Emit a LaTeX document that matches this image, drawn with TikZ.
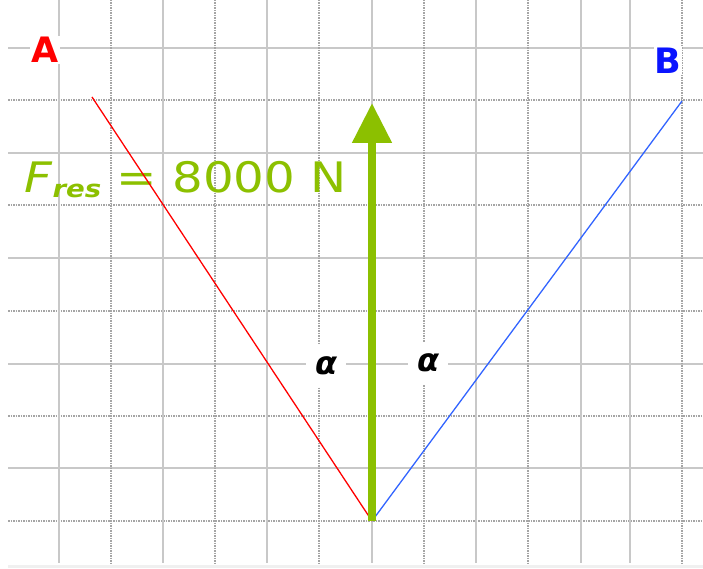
\documentclass[tikz,border=0pt]{standalone}
\usepackage{fontspec}
\setmainfont{DejaVu Sans}
\usetikzlibrary{arrows.meta}
\usepackage{xcolor}
\definecolor{verde}{RGB}{140,192,0}
\definecolor{azul}{RGB}{50,100,255}
\definecolor{azulb}{RGB}{10,20,255}
\definecolor{gris}{RGB}{200,200,200}
\definecolor{grisp}{RGB}{165,165,165}

\begin{document}
\begin{tikzpicture}[
  x=1pt, y=-1pt,
  linea/.style={gris, line width=1.6pt},
  punteada/.style={grisp, line width=1.6pt, dash pattern=on 1.5pt off 1pt},
  letra/.style={font=\fontsize{35}{35}\selectfont\bfseries, fill=white, inner sep=1pt},
  angulo/.style={font=\fontsize{32}{32}\selectfont\bfseries\itshape, fill=white, minimum width=40pt, minimum height=42pt, inner sep=0pt},
  cuerda/.style={line width=1.3pt},
  flecha/.style={-{Triangle[length=40pt,width=38pt]}, verde, line width=8pt}
]
\useasboundingbox (0,0) rectangle (703,569);
% rejilla
\foreach \y in {48,153,258,364,468}
  \draw[linea] (8,\y) -- (703,\y);
\foreach \y in {100,205,311,416,521}
  \draw[punteada] (8,\y) -- (703,\y);
\foreach \x in {59,163,267,372,476,581,630}
  \draw[linea] (\x,0) -- (\x,563);
\foreach \x in {111,215,319,424,528,682}
  \draw[punteada] (\x,0) -- (\x,563);
\draw[black!6, line width=3pt] (8,566) -- (703,566);

\coordinate (pA) at (92,97);
\coordinate (pB) at (682,101);
\coordinate (O) at (372,521);
\coordinate (punta) at (372,103);

\node[letra, text=red] (A) at (45,50) {A};
\node[letra, text=azulb] (B) at (668,61) {B};
\node[anchor=base west, text=verde, inner sep=0pt] (fres) at (24,193)
  {\fontsize{42}{42}\selectfont\scalebox{1.15}[1]{\textit{F}\raisebox{-5pt}{\fontsize{24}{24}\selectfont\textbf{\textit{res}}} = 8000 N}};

\draw[cuerda, red] (pA) -- (O);
\draw[cuerda, azul] (O) -- (pB);
\node[angulo] (alfa1) at (326,366) {α};
\node[angulo] (alfa2) at (428,363) {α};
\draw[flecha] (O) -- (punta);
\end{tikzpicture}
\end{document}
